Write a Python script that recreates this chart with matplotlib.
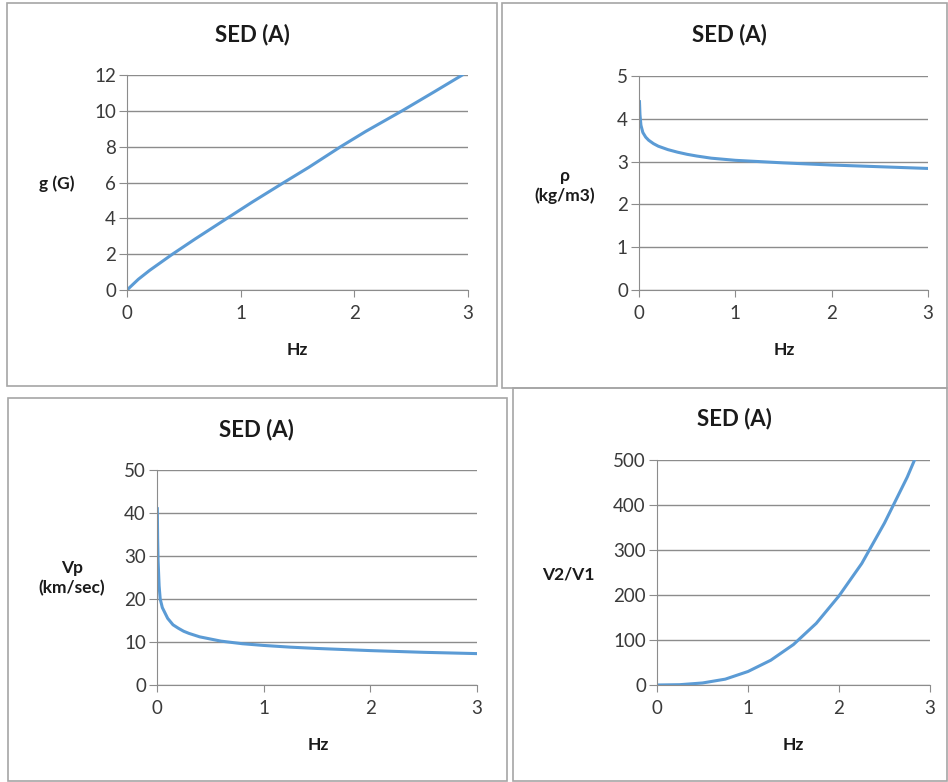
import matplotlib
matplotlib.use("Agg")
import matplotlib.pyplot as plt
from matplotlib.patches import Rectangle

plt.rcParams['font.family'] = ['Lato', 'DejaVu Sans']

# ---- data ----
title = "SED (A)"
hz_g = [0, 0.1, 0.2, 0.4, 0.6, 0.88, 1.1, 1.38, 1.6, 1.88, 2.1, 2.42, 2.7, 2.95]
g_vals = [0, 0.6, 1.1, 2.0, 2.85, 4.0, 4.9, 6.0, 6.85, 8.0, 8.85, 10.0, 11.05, 12.0]

hz_rho = [0.005, 0.01, 0.02, 0.04, 0.07, 0.1, 0.15, 0.2, 0.3, 0.4, 0.5, 0.6, 0.75, 0.9, 1.0,
          1.25, 1.5, 1.75, 2.0, 2.5, 3.0]
rho_vals = [4.4, 4.1, 3.85, 3.68, 3.57, 3.5, 3.42, 3.36, 3.28, 3.22, 3.17, 3.13, 3.08, 3.05, 3.03,
            3.0, 2.97, 2.945, 2.92, 2.88, 2.84]

hz_vp = [0.003, 0.006, 0.01, 0.02, 0.03, 0.05, 0.1, 0.15, 0.2, 0.25, 0.3, 0.4, 0.5, 0.6, 0.8, 1.0,
         1.25, 1.5, 2.0, 2.5, 3.0]
vp_vals = [41, 34, 29, 23, 20, 18, 15.5, 14, 13.2, 12.5, 12.0, 11.2, 10.7, 10.2, 9.6, 9.2,
           8.8, 8.5, 8.0, 7.6, 7.3]

hz_v = [0, 0.25, 0.5, 0.75, 1.0, 1.25, 1.5, 1.75, 2.0, 2.25, 2.5, 2.75, 2.83]
v_vals = [0, 0.7, 4.5, 13, 30, 55, 90, 137, 198, 270, 360, 462, 500]

x_ticks = [0, 1, 2, 3]

W, H = 948, 782
fig = plt.figure(figsize=(W / 100, H / 100), dpi=100)

def fx(px):
    return px / W

def fy(py):
    return 1 - py / H

line_col = '#5B9BD5'
grid_col = '#8C8C8C'
border_col = '#A6A6A6'

# panel borders
for (x0, y0, x1, y1) in [(7, 3, 497, 386), (502, 3, 947, 388), (8, 398, 507, 781), (513, 388, 947, 781)]:
    fig.patches.append(Rectangle((fx(x0), fy(y1)), fx(x1) - fx(x0), fy(y0) - fy(y1),
                                 transform=fig.transFigure, fill=False,
                                 edgecolor=border_col, linewidth=1.2))

def panel(ax_px, xs, ys, ylim, yticks, ylabel, title_xy, ylabel_xy, xlabel_xy):
    l, r, t, b = ax_px
    ax = fig.add_axes([fx(l), fy(b), fx(r) - fx(l), fy(t) - fy(b)])
    ax.plot(xs, ys, color=line_col, linewidth=2.2, solid_joinstyle='round')
    ax.set_xlim(0, 3)
    ax.set_ylim(*ylim)
    ax.set_xticks(x_ticks)
    ax.set_yticks(yticks)
    ax.yaxis.grid(True, color=grid_col, linewidth=1)
    ax.set_axisbelow(True)
    for s in ['top', 'right']:
        ax.spines[s].set_visible(False)
    ax.spines['left'].set_color(grid_col)
    ax.spines['bottom'].set_color(grid_col)
    ax.tick_params(axis='y', length=6, color=grid_col, labelsize=13.5, pad=2, labelcolor='#3a3a3a')
    ax.tick_params(axis='x', length=5, color=grid_col, labelsize=13.5, pad=6, labelcolor='#3a3a3a')
    fig.text(fx(title_xy[0]), fy(title_xy[1]), title, ha='center', va='center',
             fontsize=16, fontweight='bold', color='#1a1a1a')
    fig.text(fx(ylabel_xy[0]), fy(ylabel_xy[1]), ylabel, ha='center', va='center',
             fontsize=12.5, fontweight='bold', color='#1a1a1a', linespacing=1.3)
    fig.text(fx(xlabel_xy[0]), fy(xlabel_xy[1]), 'Hz', ha='center', va='center',
             fontsize=12.5, fontweight='bold', color='#1a1a1a')
    return ax

panel((127, 468, 75, 290), hz_g, g_vals, (0, 12), [0, 2, 4, 6, 8, 10, 12],
      'g (G)', (252, 35), (57, 184), (297, 350))
panel((639, 928, 76, 290), hz_rho, rho_vals, (0, 5), [0, 1, 2, 3, 4, 5],
      'ρ\n(kg/m3)', (729, 35), (565, 186), (784, 350))
panel((157, 477, 470, 685), hz_vp, vp_vals, (0, 50), [0, 10, 20, 30, 40, 50],
      'Vp\n(km/sec)', (256, 430), (72, 578), (318, 745))
panel((657, 930, 460, 685), hz_v, v_vals, (0, 500), [0, 100, 200, 300, 400, 500],
      'V2/V1', (734, 419), (568, 575), (793, 745))

fig.savefig('out.png', dpi=100, facecolor='white')
